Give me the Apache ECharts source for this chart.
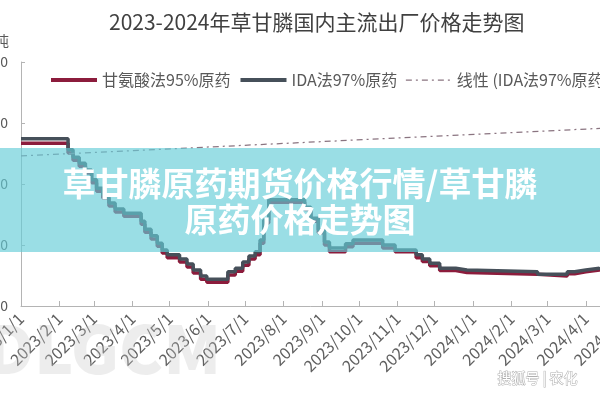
<!DOCTYPE html>
<html>
<head>
<meta charset="utf-8">
<script src="https://cdn.jsdelivr.net/npm/echarts@6/dist/echarts.min.js"></script>
<style>html,body{margin:0;padding:0;background:#fff}#c{width:600px;height:400px}</style>
</head>
<body>
<div id="c"></div>
<script>
// ---- data ----
const titleText = '2023-2024年草甘膦国内主流出厂价格走势图';
const seriesNames = ['甘氨酸法95%原药', 'IDA法97%原药', '线性 (IDA法97%原药)'];
const dates = [
  '2023-01-01','2023-02-08','2023-02-12','2023-02-17','2023-02-22','2023-02-27',
  '2023-03-03','2023-03-08','2023-03-13','2023-03-18','2023-03-25','2023-04-08',
  '2023-04-11','2023-04-16','2023-04-21','2023-04-25','2023-04-29','2023-05-09',
  '2023-05-15','2023-05-20','2023-05-26','2023-05-31','2023-06-17','2023-06-23',
  '2023-06-29','2023-07-04','2023-07-09','2023-07-13','2023-07-16','2023-07-20',
  '2023-08-18','2023-08-23','2023-08-29','2023-09-03','2023-09-07','2023-09-20',
  '2023-09-26','2023-10-20','2023-10-30','2023-11-16','2023-11-21','2023-11-27',
  '2023-12-05','2023-12-18','2023-12-27','2024-02-22','2024-03-17','2024-03-23',
  '2024-04-01','2024-04-12'
];
const idaValues = [
  47400,45600,44400,43400,42300,40700,
  39300,38200,36900,35900,35200,33900,
  32600,31500,30300,29200,28400,27700,
  26900,25900,24900,24400,25600,26200,
  27200,28200,28900,30800,34100,37400,
  36200,34400,32500,30500,29500,30200,
  30800,30000,29200,28400,27700,27000,
  26200,25900,25600,25200,25600,25900,
  26200,26400
];
const glycineValues = [
  46700,45100,43900,42900,41800,40200,
  38800,37700,36400,35400,34700,33400,
  32100,31000,29800,28700,27900,27200,
  26400,25400,24400,23900,25100,25700,
  26700,27700,28400,30300,33600,37000,
  35800,33900,32000,30000,28900,29700,
  30300,29500,28900,27900,27300,26600,
  25800,25500,25200,24900,25300,25600,
  25900,26100
];
const trendDates = ['2023-01-01', '2024-05-01'];
const trendValues = [44600, 49300];
const tickLabels = [
  '2023/1/1','2023/2/1','2023/3/1','2023/4/1','2023/5/1','2023/6/1','2023/7/1',
  '2023/8/1','2023/9/1','2023/10/1','2023/11/1','2023/12/1','2024/1/1',
  '2024/2/1','2024/3/1','2024/4/1','2024/5/1'
];
const yMin = 20000, yMax = 60000, yStep = 10000;
const yUnit = '元/吨';
const bannerLines = ['草甘膦原药期货价格行情/草甘膦', '原药价格走势图'];
const watermarkText = 'DLGCM';
const sourceText = '搜狐号 | 农化';

// ---- helpers ----
const toTs = s => { const p = s.replace(/\//g, '-').split('-').map(Number); return Date.UTC(p[0], p[1] - 1, p[2]); };
const tickTs = tickLabels.map(toTs);
const labelOf = v => { const i = tickTs.indexOf(v); if (i >= 0) return tickLabels[i]; const d = new Date(v); return d.getUTCFullYear() + '/' + (d.getUTCMonth() + 1) + '/' + d.getUTCDate(); };
const pair = (ds, vs) => ds.map((d, i) => [toTs(d), vs[i]]);

const font = '"Noto Sans CJK SC", "Noto Sans", sans-serif';
const colors = ['#8c1c3c', '#46505a', '#8a7480'];
const chart = echarts.init(document.getElementById('c'), null, { renderer: 'canvas' });
chart.setOption({
  animation: false,
  backgroundColor: '#ffffff',
  title: {
    text: titleText, left: 104, top: 7,
    textStyle: { fontFamily: font, fontSize: 21, fontWeight: 'normal', color: '#404040' }
  },
  legend: {
    left: 44, top: 67, width: 1200, itemWidth: 46, itemHeight: 14, itemGap: 8,
    itemStyle: { color: 'rgba(0,0,0,0)', borderColor: 'rgba(0,0,0,0)', borderWidth: 0 },
    textStyle: { fontFamily: font, fontSize: 16, color: '#595959' },
    data: [
      { name: seriesNames[0], lineStyle: { width: 4, color: colors[0] } },
      { name: seriesNames[1], lineStyle: { width: 4, color: colors[1] } },
      { name: seriesNames[2], lineStyle: { width: 1.25, color: colors[2], type: [6, 4, 2, 4] } }
    ]
  },
  grid: { left: 21, right: -23, top: 62, bottom: 94, containLabel: false, outerBoundsMode: 'none' },
  xAxis: {
    type: 'value', min: tickTs[0], max: tickTs[tickTs.length - 1],
    axisLine: { show: true, lineStyle: { color: '#b4b4b4', width: 1 } },
    axisTick: { show: true, inside: true, length: 5, customValues: tickTs, lineStyle: { color: '#b4b4b4' } },
    axisLabel: { customValues: tickTs, rotate: 45, margin: 10, formatter: labelOf,
      fontFamily: font, fontSize: 16, color: '#606060' },
    splitLine: { show: false }
  },
  yAxis: {
    type: 'value', min: yMin, max: yMax, interval: yStep,
    name: yUnit, nameLocation: 'end', nameGap: 14,
    nameTextStyle: { fontFamily: font, fontSize: 14, color: '#595959', align: 'right', padding: [0, 12, 0, 0] },
    axisLine: { show: true, lineStyle: { color: '#b4b4b4', width: 1 } },
    axisTick: { show: true, inside: true, length: 4, lineStyle: { color: '#b4b4b4' } },
    axisLabel: { margin: 13, fontFamily: font, fontSize: 14, color: '#595959' },
    splitLine: { show: false }
  },
  series: [
    { name: seriesNames[0], type: 'line', step: 'end', symbol: 'none', z: 2,
      data: pair(dates, glycineValues), lineStyle: { color: colors[0], width: 3.5 }, itemStyle: { color: colors[0] } },
    { name: seriesNames[1], type: 'line', step: 'end', symbol: 'none', z: 3,
      data: pair(dates, idaValues), lineStyle: { color: colors[1], width: 3.5 }, itemStyle: { color: colors[1] } },
    { name: seriesNames[2], type: 'line', symbol: 'none', z: 4,
      data: pair(trendDates, trendValues), lineStyle: { color: colors[2], width: 1.25, type: [6, 4, 2, 4] }, itemStyle: { color: colors[2] } }
  ],
  graphic: [
    { type: 'text', left: -14, top: 316, z: 1, silent: true,
      style: { text: watermarkText, fontFamily: font, fontSize: 66, fontWeight: 900, fill: 'rgba(200,200,200,0.32)' } },
    { type: 'text', left: 497, top: 370, z: 50, silent: true,
      style: { text: sourceText, fontFamily: font, fontSize: 14, fill: '#ffffff', stroke: '#b0b0b0', lineWidth: 1 } },
    { type: 'rect', shape: { x: 0, y: 148, width: 600, height: 104 }, z: 100, silent: true,
      style: { fill: 'rgba(100,205,215,0.65)' } },
    { type: 'text', x: 300, y: 183, z: 101, silent: true,
      style: { text: bannerLines[0], fontFamily: font, fontSize: 33, fontWeight: 'bold', fill: '#ffffff', align: 'center', verticalAlign: 'middle' } },
    { type: 'text', x: 300, y: 219, z: 101, silent: true,
      style: { text: bannerLines[1], fontFamily: font, fontSize: 33, fontWeight: 'bold', fill: '#ffffff', align: 'center', verticalAlign: 'middle' } }
  ]
});
</script>
</body>
</html>
